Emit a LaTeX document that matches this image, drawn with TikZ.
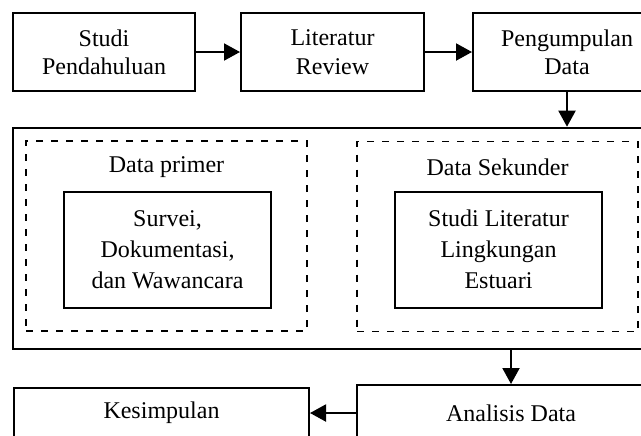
\documentclass[tikz,border=0pt]{standalone}
\usepackage{fontspec}
\setmainfont{Liberation Serif}
\usetikzlibrary{positioning,arrows.meta}

\begin{document}
\begin{tikzpicture}[x=0.5pt, y=-0.5pt]

        \def\d{22pt}

        % Styles of the boxes and the arrows
        \tikzset{
            stepbox/.style={draw, line width=1pt, align=center,
                font=\fontsize{12}{14.2}\selectfont},
            groupbox/.style={draw, line width=0.9pt,
                dash pattern=on 3.5pt off 4pt},
            arr/.style={line width=1pt,
                -{Triangle[length=8pt,width=8.5pt]}}
        }

        \useasboundingbox (0,0) rectangle (641,435);
        \clip (0,0) rectangle (641,435);

        % Top row
        \begin{scope}
            \node (S1) [stepbox, minimum width=91pt, minimum height=39pt]
            at (104, 52) {Studi\\Pendahuluan};
            \node (S2) [stepbox, minimum width=91.5pt, minimum height=39pt,
                right=\d of S1] {Literatur\\Review};
            \node (S3) [stepbox, minimum width=94pt, minimum height=39pt,
                right=23.5pt of S2] {Pengumpulan\\Data};
        \end{scope}

        % Block of the collected data
        \begin{scope}
            \node (D) [draw, line width=1.3pt, minimum width=319pt,
                minimum height=110.5pt] at (332, 238.5) {};
            \node (P) [groupbox, minimum width=140.5pt,
                minimum height=95pt] at (166.5, 236) {};
            \node (K) [groupbox, minimum width=140.5pt,
                minimum height=95pt] at (497.5, 236.5) {};
            \node (P1) [stepbox, minimum width=103.5pt, minimum height=58pt,
                font=\fontsize{12}{15.5}\selectfont]
            at (167.5, 249.5) {Survei,\\Dokumentasi,\\dan Wawancara};
            \node (K1) [stepbox, minimum width=103.5pt, minimum height=58pt,
                font=\fontsize{12}{15.5}\selectfont]
            at (498.5, 249.5) {Studi Literatur\\Lingkungan\\Estuari};
            \node (PL) [font=\fontsize{12}{14.2}\selectfont]
            at (166.5, 167) {Data primer};
            \node (KL) [font=\fontsize{12}{14.2}\selectfont]
            at (497.5, 167) {Data Sekunder};
        \end{scope}

        % Bottom row
        \begin{scope}
            \node (A) [stepbox, minimum width=154pt, minimum height=28pt]
            at (511, 413) {Analisis Data};
            \node (C) [stepbox, minimum width=147.5pt, minimum height=25pt]
            at (161.5, 413) {Kesimpulan};
        \end{scope}

        \begin{scope}
            \draw[arr] (S1) -- (S2);
            \draw[arr] (S2) -- (S3);
            \draw[arr] (S3) -- (S3 |- D.north);
            \draw[arr] (D.south -| A) -- (A);
            \draw[arr] (A) -- (C);
        \end{scope}

\end{tikzpicture}
\end{document}
